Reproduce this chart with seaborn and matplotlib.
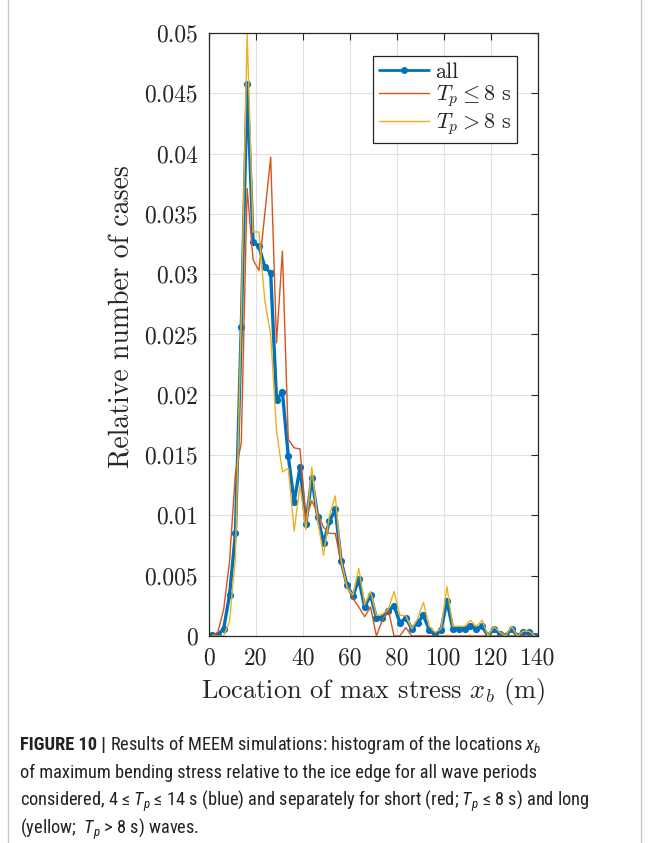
import matplotlib
matplotlib.use("Agg")
import numpy as np
import pandas as pd
import matplotlib.pyplot as plt
import seaborn as sns
from matplotlib import font_manager
from matplotlib.lines import Line2D

# Bin centres of the histogram of x_b (m)
bin_centres = [1.25, 3.75, 6.25, 8.75, 11.25, 13.75, 16.25, 18.75, 21.25, 23.75,
               26.25, 28.75, 31.25, 33.75, 36.25, 38.75, 41.25, 43.75, 46.25, 48.75,
               51.25, 53.75, 56.25, 58.75, 61.25, 63.75, 66.25, 68.75, 71.25, 73.75,
               76.25, 78.75, 81.25, 83.75, 86.25, 88.75, 91.25, 93.75, 96.25, 98.75,
               101.25, 103.75, 106.25, 108.75, 111.25, 113.75, 116.25, 118.75, 121.25, 123.75,
               126.25, 128.75, 131.25, 133.75, 136.25, 138.75]

# Relative number of cases, all wave periods
share_all = [0.0001, 0.0001, 0.0006, 0.0034, 0.0085, 0.0256, 0.0458, 0.0327, 0.0323, 0.0306,
             0.0301, 0.0196, 0.0202, 0.0149, 0.0111, 0.0140, 0.0093, 0.0131, 0.0099, 0.0077,
             0.0095, 0.0105, 0.0062, 0.0042, 0.0033, 0.0047, 0.0024, 0.0034, 0.0015, 0.0015,
             0.0021, 0.0025, 0.0011, 0.0015, 0.0006, 0.0011, 0.0017, 0.0005, 0.0001, 0.0005,
             0.0029, 0.0006, 0.0006, 0.0006, 0.0008, 0.0006, 0.0008, 0.0000, 0.0006, 0.0002,
             0.0000, 0.0006, 0.0000, 0.0003, 0.0003, 0.0000]

# Short waves, T_p <= 8 s
share_short = [0.0000, 0.0003, 0.0022, 0.0062, 0.0135, 0.0160, 0.0371, 0.0312, 0.0303, 0.0350,
               0.0397, 0.0243, 0.0319, 0.0163, 0.0156, 0.0155, 0.0097, 0.0112, 0.0102, 0.0090,
               0.0085, 0.0085, 0.0060, 0.0042, 0.0031, 0.0024, 0.0016, 0.0024, 0.0000, 0.0013,
               0.0022, 0.0000, 0.0000, 0.0007, 0.0000, 0.0000, 0.0000, 0.0000, 0.0000, 0.0000,
               0.0000, 0.0000, 0.0000, 0.0000, 0.0000, 0.0000, 0.0000, 0.0000, 0.0000, 0.0000,
               0.0000, 0.0000, 0.0000, 0.0000, 0.0000, 0.0000]

# Long waves, T_p > 8 s
share_long = [0.0000, 0.0000, 0.0000, 0.0012, 0.0065, 0.0265, 0.0500, 0.0335, 0.0335, 0.0278,
              0.0250, 0.0170, 0.0136, 0.0139, 0.0087, 0.0125, 0.0088, 0.0140, 0.0096, 0.0067,
              0.0100, 0.0116, 0.0063, 0.0040, 0.0034, 0.0056, 0.0026, 0.0037, 0.0017, 0.0018,
              0.0022, 0.0037, 0.0017, 0.0017, 0.0006, 0.0014, 0.0028, 0.0008, 0.0003, 0.0006,
              0.0041, 0.0008, 0.0008, 0.0008, 0.0013, 0.0008, 0.0013, 0.0000, 0.0008, 0.0003,
              0.0000, 0.0008, 0.0000, 0.0004, 0.0004, 0.0000]

series_labels = ["all", r"$T_p \leq 8$ s", r"$T_p > 8$ s"]

x_ticks = [0, 20, 40, 60, 80, 100, 120, 140]
x_tick_labels = ["0", "20", "40", "60", "80", "100", "120", "140"]
y_ticks = [0, 0.005, 0.01, 0.015, 0.02, 0.025, 0.03, 0.035, 0.04, 0.045, 0.05]
y_tick_labels = ["0", "0.005", "0.01", "0.015", "0.02", "0.025", "0.03", "0.035",
                 "0.04", "0.045", "0.05"]

caption_head = "FIGURE 10 |"
caption_lines = [
    " Results of MEEM simulations: histogram of the locations $x_b$",
    "of maximum bending stress relative to the ice edge for all wave periods",
    "considered, 4 \u2264 $T_p$ \u2264 14 s (blue) and separately for short (red; $T_p$ \u2264 8 s) and long",
    "(yellow;  $T_p$ > 8 s) waves.",
]

BLUE = "#0072BD"
RED = "#D95319"
YELLOW = "#EDB120"
INK = "#262626"

sns.set_style("white")

# Prefer a narrow sans face for the caption when one is installed
cap_font, cap_stretch = "Roboto", "normal"
for f in font_manager.fontManager.ttflist:
    if f.name in ("Liberation Sans Narrow", "Roboto Condensed", "Noto Sans Condensed",
                  "Open Sans Condensed"):
        cap_font, cap_stretch = f.name, "normal"
        break
    if f.name in ("Noto Sans", "Open Sans", "Roboto") and str(f.stretch) in (
            "condensed", "semi-condensed", "75", "87.5"):
        cap_font, cap_stretch = f.name, f.stretch
        break

plt.rcParams["font.family"] = ["cmr10", "DejaVu Serif"]
plt.rcParams["mathtext.fontset"] = "cm"
plt.rcParams["axes.formatter.use_mathtext"] = True
plt.rcParams["mathtext.rm"] = cap_font
plt.rcParams["mathtext.it"] = cap_font + ":italic"
plt.rcParams["mathtext.bf"] = cap_font + ":bold"

df = pd.DataFrame({"x": bin_centres, "all": share_all,
                   "short": share_short, "long": share_long})

fig = plt.figure(figsize=(6.51, 8.43), dpi=100)
ax = fig.add_axes([0.3210, 0.2456, 0.5054, 0.7153])

sns.lineplot(data=df, x="x", y="all", ax=ax, color=BLUE, linewidth=2.4,
             marker="o", markersize=5.2, markeredgewidth=0, legend=False)
sns.lineplot(data=df, x="x", y="short", ax=ax, color=RED, linewidth=1.0, legend=False)
sns.lineplot(data=df, x="x", y="long", ax=ax, color=YELLOW, linewidth=1.0, legend=False)

ax.set_xlim(0, 140)
ax.set_ylim(0, 0.05)
ax.set_xticks(x_ticks)
ax.set_xticklabels(x_tick_labels)
ax.set_yticks(y_ticks)
ax.set_yticklabels(y_tick_labels)
ax.grid(True, color="#e0e0e0", linewidth=0.8)
ax.set_axisbelow(True)
ax.tick_params(direction="in", top=True, right=True, length=5, width=0.8,
               color=INK, labelcolor=INK, labelsize=17, pad=8)
for sp in ax.spines.values():
    sp.set_color(INK)
    sp.set_linewidth(0.9)

ax.set_xlabel("Location of max stress $x_b$ (m)", fontsize=19, color=INK, labelpad=5)
ax.set_ylabel("Relative number of cases", fontsize=20, color=INK)
ax.yaxis.set_label_coords(-0.222, 0.53)

handles = [
    Line2D([], [], color=BLUE, linewidth=2.0, marker="o", markersize=5, markeredgewidth=0),
    Line2D([], [], color=RED, linewidth=1.0),
    Line2D([], [], color=YELLOW, linewidth=1.0),
]
leg = ax.legend(handles, series_labels, loc="upper right", bbox_to_anchor=(0.936, 0.961),
                borderaxespad=0, fancybox=False, framealpha=1, edgecolor=INK,
                fontsize=16, handlelength=2.25, handletextpad=0.3, labelspacing=0.08,
                borderpad=0.25)
leg.get_frame().set_linewidth(0.9)

# Caption below the axes; its size is set so the second line spans the panel text width
renderer = fig.canvas.get_renderer()
cap_kw = dict(family=[cap_font, "DejaVu Sans"], stretch=cap_stretch, color="#222222",
              va="baseline", ha="left", math_fontfamily="custom")
probe = fig.text(0, 0, caption_lines[1], fontsize=12, **cap_kw)
probe_w = probe.get_window_extent(renderer).width
probe.remove()
cap_size = 12 * 515.0 / probe_w

line_y = [750, 778, 806, 834]
head = fig.text(20 / 651, 1 - line_y[0] / 843, caption_head, fontsize=cap_size,
                weight="bold", **cap_kw)
head_right = head.get_window_extent(renderer).x1 / fig.bbox.width
fig.text(head_right, 1 - line_y[0] / 843, caption_lines[0], fontsize=cap_size, **cap_kw)
for txt, yy in zip(caption_lines[1:], line_y[1:]):
    fig.text(20 / 651, 1 - yy / 843, txt, fontsize=cap_size, **cap_kw)

# Light frame around the figure panel
for xx in (8 / 651, 641 / 651):
    fig.add_artist(Line2D([xx, xx], [0, 1], color="#c8c8c8", linewidth=1.0,
                          transform=fig.transFigure))

fig.savefig("out.png", dpi=100)
